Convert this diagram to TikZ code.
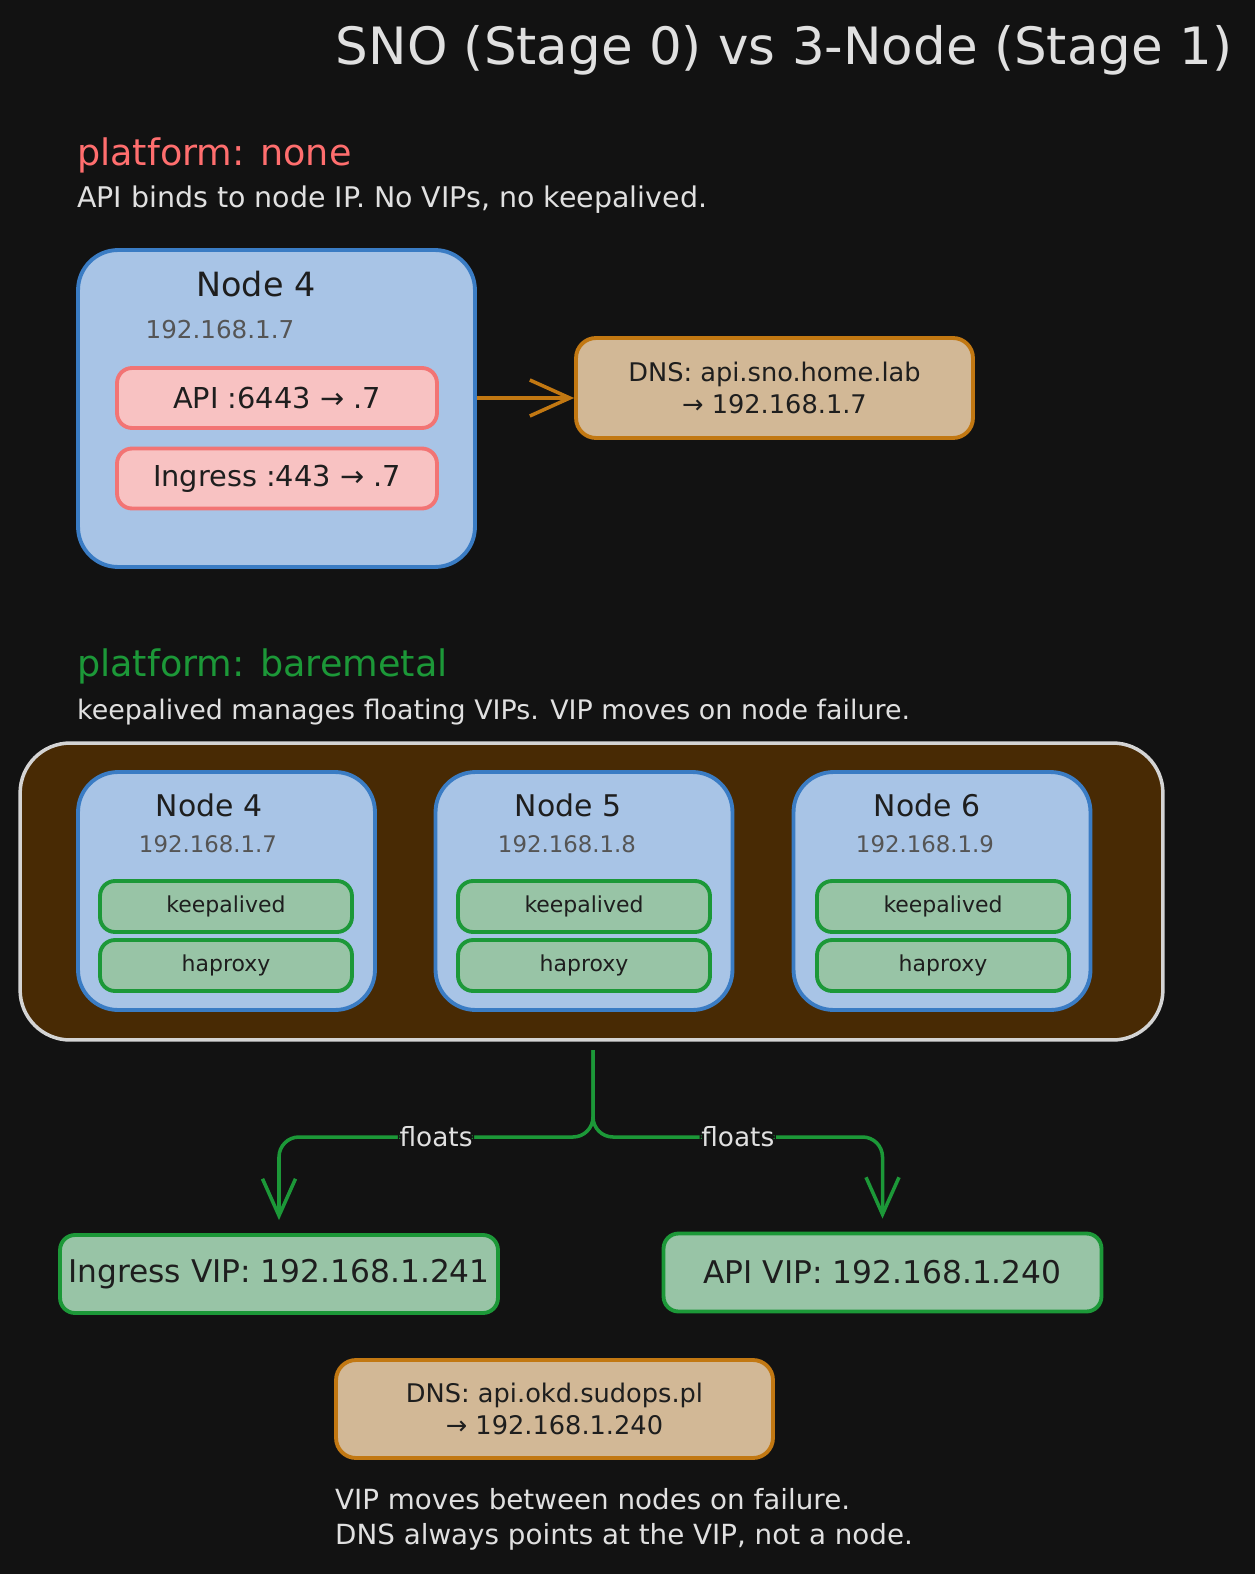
\documentclass[tikz,border=0pt]{standalone}
\usepackage{fontspec}
\setmainfont{DejaVu Sans}
\usetikzlibrary{arrows.meta}
\definecolor{Cfundo}{RGB}{18,18,18}
\definecolor{Ctexto}{RGB}{30,30,30}
\definecolor{Cclaro}{RGB}{224,224,224}
\definecolor{Cip}{RGB}{85,85,85}
\definecolor{Cvermelho}{RGB}{255,110,110}
\definecolor{Cverde}{RGB}{28,152,56}
\definecolor{Cazul}{RGB}{58,124,196}
\definecolor{Cazulclaro}{RGB}{168,196,230}
\definecolor{Crosa}{RGB}{248,194,194}
\definecolor{Crosaborda}{RGB}{242,116,116}
\definecolor{Cbege}{RGB}{210,184,150}
\definecolor{Claranja}{RGB}{194,120,18}
\definecolor{Cmarrom}{RGB}{72,42,4}
\definecolor{Ccinzaborda}{RGB}{212,212,212}
\definecolor{Cverdeclaro}{RGB}{152,196,166}

\begin{document}
\begin{tikzpicture}[x=0.02cm, y=-0.02cm,
      nodebox/.style={draw=Cazul, fill=Cazulclaro, line width=2.2pt,
                      rounded corners=0.8cm,
                      minimum width=5.94cm, minimum height=4.76cm},
      portbox/.style={draw=Crosaborda, fill=Crosa, line width=2.2pt,
                      rounded corners=0.3cm, text=Ctexto,
                      minimum width=6.4cm, minimum height=1.2cm,
                      font=\fontsize{16.4}{19}\selectfont},
      svcbox/.style={draw=Cverde, fill=Cverdeclaro, line width=2.2pt,
                     rounded corners=0.3cm, text=Ctexto,
                     minimum width=5.04cm, minimum height=1.02cm,
                     font=\fontsize{12.5}{15}\selectfont},
      dnsbox/.style={draw=Claranja, fill=Cbege, line width=2.2pt,
                     rounded corners=0.4cm, text=Ctexto, align=center,
                     minimum width=7.94cm, minimum height=2cm,
                     font=\fontsize{14.6}{18.5}\selectfont},
      vipbox/.style={draw=Cverde, fill=Cverdeclaro, line width=2.2pt,
                     rounded corners=0.3cm, text=Ctexto,
                     minimum width=8.76cm, minimum height=1.56cm,
                     font=\fontsize{17.8}{21}\selectfont},
      ntitle/.style={text=Ctexto, font=\fontsize{17}{20}\selectfont},
      nip/.style={text=Cip, font=\fontsize{13}{16}\selectfont},
      heading/.style={anchor=west, font=\fontsize{20.8}{25}\selectfont},
      note/.style={anchor=west, text=Cclaro, font=\fontsize{15.3}{18}\selectfont},
      flow/.style={draw=Cverde, line width=2pt, rounded corners=0.4cm,
                   -{Straight Barb[length=0.74cm, width=0.66cm, line width=2pt]}},
      flowlabel/.style={fill=Cfundo, text=Cclaro, inner sep=1pt,
                        font=\fontsize{15}{18}\selectfont}]
    % fundo
    \fill[Cfundo] (0,0) rectangle (1255,1574);
    \node[text=Cclaro, font=\fontsize{29.3}{34}\selectfont] (title) at (784,50)
      {SNO (Stage 0) vs 3-Node (Stage 1)};

    % Stage 0
    \node[heading, text=Cvermelho] (h0) at (71,155) {platform: none};
    \node[note, font=\fontsize{16.2}{19}\selectfont] (s0) at (71,200)
      {API binds to node IP. No VIPs, no keepalived.};
    \node[nodebox, minimum width=7.94cm, minimum height=6.34cm] (sno) at (276.5,408.5) {};
    \node[ntitle, font=\fontsize{19}{22}\selectfont] (snot) at (256,284) {Node 4};
    \node[nip, font=\fontsize{14}{17}\selectfont] (snoip) at (220,330) {192.168.1.7};
    \node[portbox] (api) at (277,398) {API :6443 → .7};
    \node[portbox] (ing) at (277,478.5) {Ingress :443 → .7};
    \node[dnsbox] (dns1) at (774.5,388) {DNS: api.sno.home.lab\\→ 192.168.1.7};
    \draw[Claranja, line width=2pt,
          -{Straight Barb[length=0.8cm, width=0.72cm, line width=2pt]}]
      (api.east -| sno.east) -- (api.east -| dns1.west);

    % Stage 1
    \node[heading, text=Cverde] (h1) at (71,666) {platform: baremetal};
    \node[note] (s1) at (71,712) {keepalived manages floating VIPs. VIP moves on node failure.};
    \node[draw=Ccinzaborda, fill=Cmarrom, line width=2pt, rounded corners=1cm,
          minimum width=22.86cm, minimum height=5.94cm] (cluster) at (591.5,891.5) {};
    % Node 4
    \node[nodebox] (n4) at (226.5,891) {};
    \node[ntitle] (n4t) at (209,805) {Node 4};
    \node[nip] (n4ip) at (208,844) {192.168.1.7};
    \node[svcbox] (n4k) at (226,906.5) {keepalived};
    \node[svcbox] (n4h) at (226,965.5) {haproxy};
    % Node 5
    \node[nodebox] (n5) at (584,891) {};
    \node[ntitle] (n5t) at (568,805) {Node 5};
    \node[nip] (n5ip) at (567,844) {192.168.1.8};
    \node[svcbox] (n5k) at (584,906.5) {keepalived};
    \node[svcbox] (n5h) at (584,965.5) {haproxy};
    % Node 6
    \node[nodebox] (n6) at (942,891) {};
    \node[ntitle] (n6t) at (927,805) {Node 6};
    \node[nip] (n6ip) at (925,844) {192.168.1.9};
    \node[svcbox] (n6k) at (943,906.5) {keepalived};
    \node[svcbox] (n6h) at (943,965.5) {haproxy};

    % VIPs
    \node[vipbox] (ingvip) at (279,1274) {Ingress VIP: 192.168.1.241};
    \node[vipbox] (apivip) at (882.5,1272.5) {API VIP: 192.168.1.240};
    \coordinate (fork) at (593,1050);
    \coordinate (forkL) at (279,1137);
    \coordinate (forkR) at (882.5,1137);
    \draw[flow, shorten >=0.26cm] (fork) |- (forkL)
      node[flowlabel, pos=0.75] {floats} -- (ingvip.north);
    \draw[flow, shorten >=0.26cm] (fork) |- (forkR)
      node[flowlabel, pos=0.75] {floats} -- (apivip.north);

    \node[dnsbox, minimum width=8.74cm, minimum height=1.96cm] (dns2) at (554.5,1409)
      {DNS: api.okd.sudops.pl\\→ 192.168.1.240};
    \node[note, align=left, anchor=north west, font=\fontsize{15.8}{20.2}\selectfont]
      (n1) at (329,1482) {VIP moves between nodes on failure.\\DNS always points at the VIP, not a node.};
  \end{tikzpicture}
\end{document}
